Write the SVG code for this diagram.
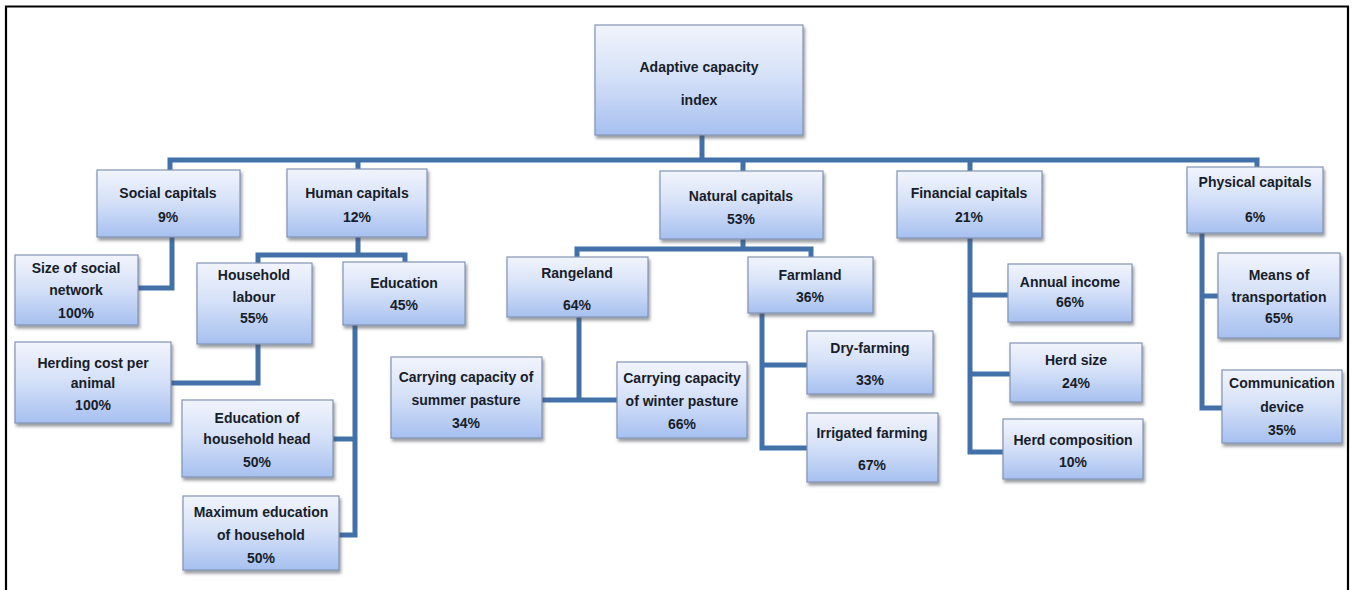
<svg xmlns="http://www.w3.org/2000/svg" width="1354" height="590" viewBox="0 0 1354 590">
  <defs>
    <linearGradient id="boxFill" x1="0" y1="0" x2="0" y2="1">
      <stop offset="0" stop-color="#f1f4fc"/>
      <stop offset="0.45" stop-color="#d7e2f8"/>
      <stop offset="1" stop-color="#a6c0f0"/>
    </linearGradient>
    <filter id="shadow" x="-10%" y="-10%" width="125%" height="135%">
      <feDropShadow dx="1.5" dy="3" stdDeviation="1.6" flood-color="#4a4f5a" flood-opacity="0.55"/>
    </filter>
    <style>
      .box { fill: url(#boxFill); stroke: #8294b4; stroke-width: 1.2; filter: url(#shadow); }
      .lbl { font-family: "Liberation Sans", Arial, sans-serif; font-weight: bold; font-size: 14px; fill: #181d2a; text-anchor: middle; }
      .wire { fill: none; stroke: #4270a8; stroke-width: 5; stroke-linejoin: miter; stroke-linecap: butt; }
      .frame { fill: none; stroke: #000; stroke-width: 2.2; }
    </style>
  </defs>

  <rect width="1354" height="590" fill="#ffffff"/>
  <path class="frame" d="M6,590 V6.5 H1348 V590"/>

  <!-- connectors -->
  <g id="connectors">
    <path class="wire" d="M702,135 V160"/>
    <path class="wire" d="M170,170 V160 H1257 V167"/>
    <path class="wire" d="M358,160 V169"/>
    <path class="wire" d="M743,160 V171"/>
    <path class="wire" d="M970,160 V171"/>
    <!-- social -->
    <path class="wire" d="M172,237 V288 H138"/>
    <!-- human -->
    <path class="wire" d="M358,237 V255"/>
    <path class="wire" d="M258,263 V255 H405 V262"/>
    <path class="wire" d="M258,344 V383 H171"/>
    <path class="wire" d="M355,325 V535 H339"/>
    <path class="wire" d="M355,439 H333"/>
    <!-- natural -->
    <path class="wire" d="M743,239 V249"/>
    <path class="wire" d="M577,257 V249 H811 V257"/>
    <path class="wire" d="M579,317 V400"/>
    <path class="wire" d="M542,400 H617"/>
    <path class="wire" d="M762,313 V448 H807"/>
    <path class="wire" d="M762,365 H807"/>
    <!-- financial -->
    <path class="wire" d="M970,238 V452 H1003"/>
    <path class="wire" d="M970,295 H1008"/>
    <path class="wire" d="M970,374 H1010"/>
    <!-- physical -->
    <path class="wire" d="M1202,233 V408 H1222"/>
    <path class="wire" d="M1202,296 H1218"/>
  </g>

  <g id="root">
    <rect class="box" x="595" y="25" width="208" height="110"/>
    <text class="lbl" x="699" y="72">Adaptive capacity</text>
    <text class="lbl" x="699" y="105">index</text>
  </g>

  <g id="social">
    <rect class="box" x="97" y="170" width="143" height="67"/>
    <text class="lbl" x="168" y="198">Social capitals</text>
    <text class="lbl" x="168" y="222">9%</text>
  </g>
  <g id="human">
    <rect class="box" x="287" y="169" width="140" height="68"/>
    <text class="lbl" x="357" y="198">Human capitals</text>
    <text class="lbl" x="357" y="222">12%</text>
  </g>
  <g id="natural">
    <rect class="box" x="660" y="171" width="163" height="68"/>
    <text class="lbl" x="741" y="201">Natural capitals</text>
    <text class="lbl" x="741" y="224">53%</text>
  </g>
  <g id="financial">
    <rect class="box" x="897" y="171" width="145" height="67"/>
    <text class="lbl" x="969" y="198">Financial capitals</text>
    <text class="lbl" x="969" y="222">21%</text>
  </g>
  <g id="physical">
    <rect class="box" x="1187" y="167" width="136" height="66"/>
    <text class="lbl" x="1255" y="187">Physical capitals</text>
    <text class="lbl" x="1255" y="222">6%</text>
  </g>

  <g id="social-network">
    <rect class="box" x="15" y="255" width="123" height="70"/>
    <text class="lbl" x="76" y="273">Size of social</text>
    <text class="lbl" x="76" y="295">network</text>
    <text class="lbl" x="76" y="318">100%</text>
  </g>
  <g id="herding-cost">
    <rect class="box" x="15" y="342" width="156" height="81"/>
    <text class="lbl" x="93" y="368">Herding cost per</text>
    <text class="lbl" x="93" y="388">animal</text>
    <text class="lbl" x="93" y="410">100%</text>
  </g>
  <g id="household-labour">
    <rect class="box" x="197" y="263" width="115" height="81"/>
    <text class="lbl" x="254" y="280">Household</text>
    <text class="lbl" x="254" y="302">labour</text>
    <text class="lbl" x="254" y="323">55%</text>
  </g>
  <g id="education">
    <rect class="box" x="343" y="262" width="122" height="63"/>
    <text class="lbl" x="404" y="288">Education</text>
    <text class="lbl" x="404" y="310">45%</text>
  </g>
  <g id="education-head">
    <rect class="box" x="182" y="400" width="151" height="77"/>
    <text class="lbl" x="257" y="423">Education of</text>
    <text class="lbl" x="257" y="444">household head</text>
    <text class="lbl" x="257" y="467">50%</text>
  </g>
  <g id="education-max">
    <rect class="box" x="183" y="496" width="156" height="74"/>
    <text class="lbl" x="261" y="517">Maximum education</text>
    <text class="lbl" x="261" y="540">of household</text>
    <text class="lbl" x="261" y="563">50%</text>
  </g>

  <g id="rangeland">
    <rect class="box" x="507" y="257" width="141" height="60"/>
    <text class="lbl" x="577" y="278">Rangeland</text>
    <text class="lbl" x="577" y="310">64%</text>
  </g>
  <g id="summer-pasture">
    <rect class="box" x="391" y="357" width="151" height="81"/>
    <text class="lbl" x="466" y="382">Carrying capacity of</text>
    <text class="lbl" x="466" y="405">summer pasture</text>
    <text class="lbl" x="466" y="428">34%</text>
  </g>
  <g id="winter-pasture">
    <rect class="box" x="617" y="362" width="130" height="76"/>
    <text class="lbl" x="682" y="383">Carrying capacity</text>
    <text class="lbl" x="682" y="406">of winter pasture</text>
    <text class="lbl" x="682" y="429">66%</text>
  </g>
  <g id="farmland">
    <rect class="box" x="748" y="257" width="125" height="56"/>
    <text class="lbl" x="810" y="280">Farmland</text>
    <text class="lbl" x="810" y="302">36%</text>
  </g>
  <g id="dry-farming">
    <rect class="box" x="807" y="331" width="126" height="63"/>
    <text class="lbl" x="870" y="353">Dry-farming</text>
    <text class="lbl" x="870" y="385">33%</text>
  </g>
  <g id="irrigated-farming">
    <rect class="box" x="807" y="413" width="131" height="69"/>
    <text class="lbl" x="872" y="438">Irrigated farming</text>
    <text class="lbl" x="872" y="470">67%</text>
  </g>

  <g id="annual-income">
    <rect class="box" x="1008" y="264" width="124" height="58"/>
    <text class="lbl" x="1070" y="287">Annual income</text>
    <text class="lbl" x="1070" y="307">66%</text>
  </g>
  <g id="herd-size">
    <rect class="box" x="1010" y="343" width="132" height="59"/>
    <text class="lbl" x="1076" y="365">Herd size</text>
    <text class="lbl" x="1076" y="388">24%</text>
  </g>
  <g id="herd-composition">
    <rect class="box" x="1003" y="419" width="140" height="60"/>
    <text class="lbl" x="1073" y="445">Herd composition</text>
    <text class="lbl" x="1073" y="467">10%</text>
  </g>

  <g id="transportation">
    <rect class="box" x="1218" y="253" width="122" height="85"/>
    <text class="lbl" x="1279" y="280">Means of</text>
    <text class="lbl" x="1279" y="302">transportation</text>
    <text class="lbl" x="1279" y="323">65%</text>
  </g>
  <g id="communication">
    <rect class="box" x="1222" y="370" width="120" height="73"/>
    <text class="lbl" x="1282" y="388">Communication</text>
    <text class="lbl" x="1282" y="412">device</text>
    <text class="lbl" x="1282" y="435">35%</text>
  </g>
</svg>
